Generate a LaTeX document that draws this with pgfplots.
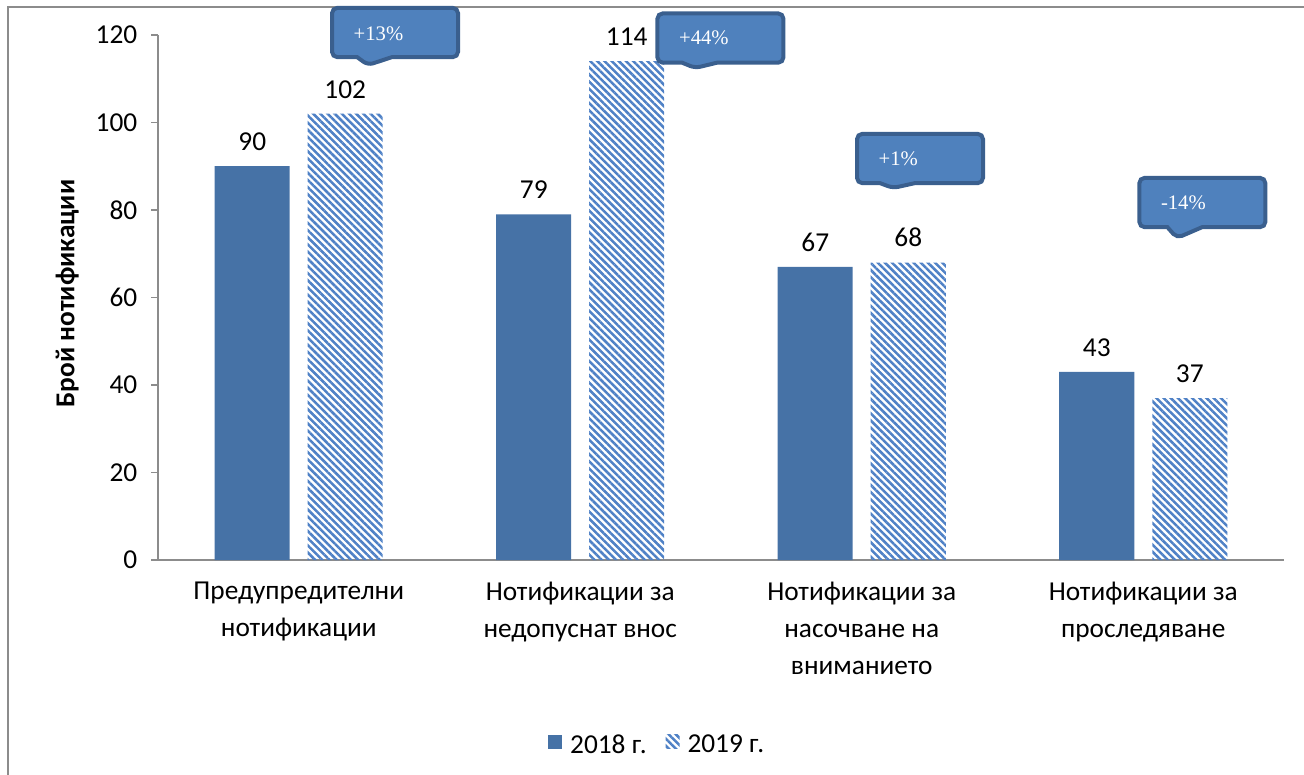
\documentclass[border=0pt]{standalone}
\usepackage{fontspec}
\setmainfont{Carlito}
\newfontfamily\calloutfont{Liberation Serif}
\usepackage{pgfplots}
\pgfplotsset{compat=1.18}
\usetikzlibrary{patterns.meta,shapes.callouts}
\definecolor{barA}{HTML}{4672A6}
\definecolor{barB}{HTML}{4F81C6}
\definecolor{cfill}{HTML}{4F81BD}
\definecolor{cdraw}{HTML}{3A5F8E}
\definecolor{axgray}{HTML}{8C8C8C}
\begin{document}
\begin{tikzpicture}[x=0.75pt,y=0.75pt]
\path[use as bounding box] (-158,-215) rectangle (1146,560);
\draw[axgray,line width=1.5pt] (-150,-230) -- (-150,553) -- (1160,553);
\begin{axis}[
  at={(0,0)}, anchor=south west,
  scale only axis,
  width=844.5pt, height=393.75pt,
  xmin=-0.5, xmax=3.5, ymin=0, ymax=120,
  ybar=13.5pt, bar width=56.25pt,
  clip=false,
  axis x line*=bottom, axis y line*=left,
  axis line style={axgray,line width=1.2pt},
  x axis line style={-},
  y axis line style={-},
  xtick={0,1,2,3}, major x tick style={draw=none},
  xticklabels={{Предупредителни\\нотификации},{Нотификации за\\недопуснат внос},{Нотификации за\\насочване на\\вниманието},{Нотификации за\\проследяване}},
  xticklabel style={align=center, font=\fontsize{20.5}{27.75}\selectfont, anchor=north, yshift=-8pt},
  ytick={0,20,...,120},
  ytick style={axgray,line width=1.2pt},
  tick align=outside, major tick length=5pt,
  yticklabel style={font=\fontsize{20.5}{24}\selectfont, xshift=-7pt},
  /pgf/number format/assume math mode=true,
  ylabel={\bfseries Брой нотификации},
  every axis y label/.style={at={(axis description cs:0,0.5)}, xshift=-68pt, yshift=3pt, rotate=90, anchor=center, font=\fontsize{20.5}{24}\selectfont},
  nodes near coords,
  every node near coord/.append style={font=\fontsize{20.5}{24}\selectfont, black, yshift=8pt},
  legend style={at={(0.446,-0.352)}, anchor=center, draw=none, legend columns=2,
    font=\fontsize{20.5}{24}\selectfont, nodes={inner xsep=6pt}, /tikz/every even column/.append style={column sep=8pt}},
  legend image code/.code={\path[#1] (0pt,-3pt) rectangle (10.5pt,7.5pt);},
]
\addplot[draw=none, fill=barA] coordinates {(0,90) (1,79) (2,67) (3,43)};
\addplot[draw=none, pattern={Lines[angle=-45,distance=3.8pt,line width=1.9pt]}, pattern color=barB] coordinates {(0,102) (1,114) (2,68) (3,37)};
\legend{2018 г.,2019 г.}
\tikzset{cal/.style={rectangle callout, fill=cfill, draw=cdraw, line width=3pt, rounded corners=4pt,
  minimum width=94.5pt, minimum height=37pt, text width=62pt, align=left, inner xsep=16pt,
  callout pointer width=26pt, text=white, font=\calloutfont\fontsize{15.5}{18}\selectfont}}
\node[cal, callout absolute pointer={(axis cs:0.246,113.14)}] at (axis cs:0.342,120.57) {+13\%\vphantom{\rule{0pt}{12pt}}\\[-4pt]};
\node[cal, callout absolute pointer={(axis cs:1.408,112.46)}] at (axis cs:1.498,119.3) {+44\%\\[-4pt]};
\node[cal, callout absolute pointer={(axis cs:2.111,85.03)}] at (axis cs:2.207,91.77) {+1\%\\[-4pt]};
\node[cal, callout absolute pointer={(axis cs:3.120,73.6)}] at (axis cs:3.210,81.71) {-14\%\\[-4pt]};
\end{axis}
\end{tikzpicture}
\end{document}
